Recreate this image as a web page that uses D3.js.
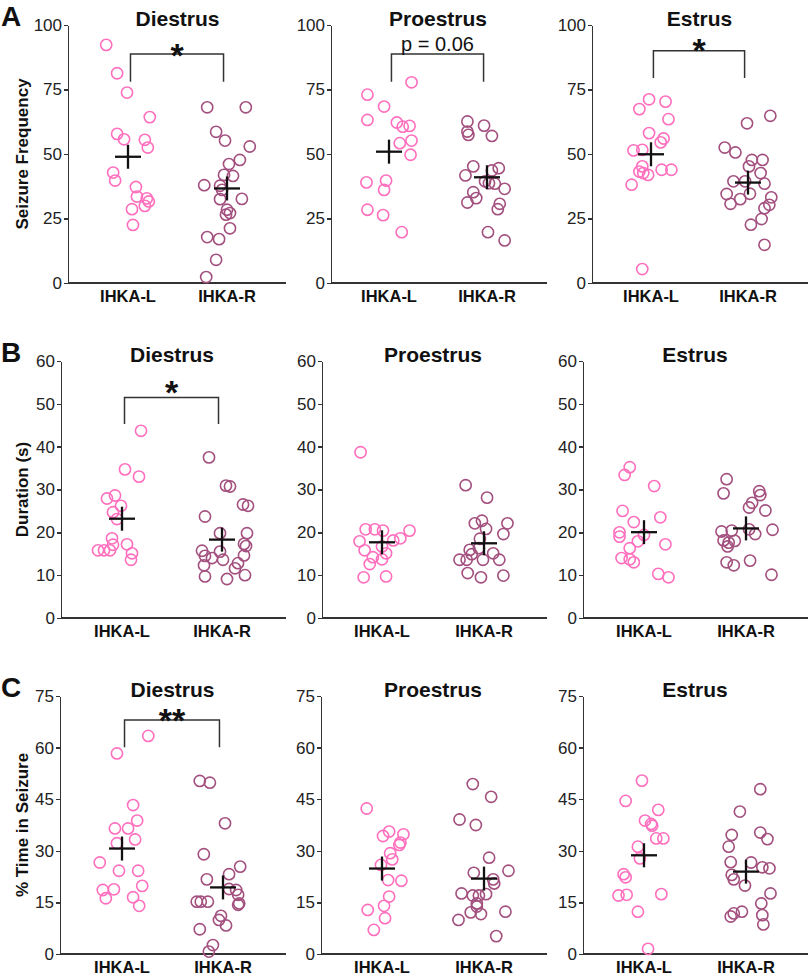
<!DOCTYPE html>
<html>
<head>
<meta charset="utf-8">
<title>Seizure measures by cycle stage</title>
<script src="https://cdn.jsdelivr.net/npm/d3@7/dist/d3.min.js"></script>
<style>
  body { margin: 0; background: #fff; }
  svg { display: block; font-family: "Liberation Sans", Arial, sans-serif; }
  .axis path, .axis line { stroke: #333; stroke-width: 1.5px; shape-rendering: crispEdges; }
  .axis text { font-size: 17px; fill: #222; }
  .base { stroke: #333; stroke-width: 1.5px; shape-rendering: crispEdges; }
  .cat { font-size: 16.5px; font-weight: bold; fill: #111; }
  .title { font-size: 21px; font-weight: bold; fill: #111; }
  .ytitle { font-size: 17px; font-weight: bold; fill: #111; }
  .letter { font-size: 28px; font-weight: bold; fill: #111; }
  .mean { stroke: #111; stroke-width: 2.3px; }
  .bracket { fill: none; stroke: #333; stroke-width: 1.5px; }
</style>
</head>
<body>
<script>
// groups, stages, measures
var categories = ["IHKA-L", "IHKA-R"];
var stages = ["Diestrus", "Proestrus", "Estrus"];
var measures = ["Seizure Frequency", "Duration (s)", "% Time in Seizure"];
var letters = ["A", "B", "C"];
var yDomains = [[0, 100], [0, 60], [0, 75]];
var yTicks = [[0, 25, 50, 75, 100], [0, 10, 20, 30, 40, 50, 60], [0, 15, 30, 45, 60, 75]];
var groupColors = ["#ff6fbe", "#a3507f"];

// each point: [horizontal jitter (hundredths of group spacing), value]
var freqDiL = [[-22,92.3],[-11,81.3],[-1,73.8],[22,64.3],[-11,57.8],[-4,55.7],[17,55.5],[20,52.5],[-15,42.8],[-13,39.7],[8,37.2],[9,33.5],[19,32.8],[21,31.6],[17,29.9],[4,28.6],[5,22.5]];
var freqDiR = [[-20,68.1],[19,68.1],[-11,58.6],[-2,55.2],[23,52.9],[2,46.1],[13,47.7],[-3,41.9],[6,41.5],[-23,37.9],[-7,37.7],[-5,36.1],[-7,32.5],[15,32.6],[0,28.4],[3,27.1],[-1,26.5],[3,21.2],[-20,17.8],[-8,17.0],[-11,9.0],[-21,2.3]];
var freqProL = [[23,77.8],[-22,73.0],[-5,68.4],[-22,63.2],[8,62.2],[14,60.6],[21,60.9],[11,54.2],[23,55.2],[22,49.7],[-23,39.0],[-3,39.7],[-5,36.1],[-22,28.4],[-6,26.3],[13,19.7]];
var freqProR = [[-20,62.6],[-20,58.7],[-19,57.4],[-3,61.0],[5,57.0],[-14,45.2],[-22,41.7],[5,43.6],[12,44.5],[-2,39.4],[2,38.7],[8,38.5],[18,36.5],[-14,35.2],[-11,32.9],[-20,31.2],[13,30.7],[11,28.6],[1,19.7],[18,16.5]];
var freqEsL = [[-2,71.2],[-12,67.4],[15,70.3],[18,63.5],[-2,58.1],[13,56.0],[10,54.5],[-18,51.4],[-9,51.6],[-9,45.2],[-12,43.2],[-8,42.6],[-3,41.9],[11,43.9],[21,43.9],[-20,38.1],[-9,5.4]];
var freqEsR = [[23,64.8],[-1,61.9],[-24,52.5],[-13,50.6],[4,47.7],[15,47.7],[1,45.2],[13,42.6],[-15,39.4],[-3,39.4],[17,38.5],[-22,34.5],[-8,32.5],[2,34.6],[24,33.2],[-18,30.7],[22,30.3],[17,29.0],[3,22.6],[14,24.8],[17,14.8]];

var durDiL = [[19,43.7],[3,34.7],[17,33.0],[-15,27.9],[-7,28.6],[-1,26.2],[-9,24.7],[-5,23.1],[-10,18.6],[-9,17.1],[5,17.2],[-24,15.8],[-18,15.8],[-12,15.8],[10,15.1],[9,13.6]];
var durDiR = [[-13,37.5],[4,30.9],[8,30.7],[21,26.5],[26,26.2],[-17,23.7],[-2,19.8],[25,19.8],[22,17.3],[24,16.8],[-20,15.7],[-2,15.5],[-17,14.5],[-10,14.0],[22,14.6],[1,13.6],[16,12.8],[-18,12.3],[13,11.6],[-17,9.7],[23,10.0],[5,9.1]];
var durProL = [[-21,38.7],[-16,20.7],[-7,20.7],[1,20.4],[27,20.4],[18,18.6],[11,18.1],[-22,17.9],[0,16.7],[-17,15.8],[4,15.1],[-9,14.2],[0,13.7],[-12,12.6],[-18,9.5],[4,9.7]];
var durProR = [[-18,31.0],[3,28.1],[-9,22.1],[-2,22.7],[23,22.1],[2,20.8],[19,19.6],[-4,18.5],[-14,15.9],[-12,14.9],[9,15.1],[-24,13.6],[-17,13.6],[-1,13.6],[15,13.6],[-16,10.5],[19,9.9],[-3,9.5],[-5,16.3]];
var durEsL = [[-14,35.2],[-19,33.4],[10,30.8],[-21,25.0],[-10,22.4],[16,23.5],[-24,20.0],[-24,19.0],[0,19.4],[-6,17.9],[21,17.2],[-14,16.3],[-22,14.0],[-14,13.7],[-10,13.0],[14,10.3],[24,9.5]];
var durEsR = [[-19,32.4],[-22,29.1],[13,29.6],[14,28.7],[6,26.9],[3,25.8],[19,25.1],[-24,20.2],[-14,20.4],[3,20.7],[9,19.6],[26,20.6],[-22,18.1],[-17,17.6],[-11,18.0],[-18,16.7],[-19,13.0],[-12,12.3],[4,13.4],[25,10.1]];

var timeDiL = [[26,63.4],[-5,58.3],[11,43.3],[15,38.8],[-7,36.5],[6,36.5],[13,33.3],[-5,32.2],[-22,26.6],[-3,24.2],[16,24.2],[20,19.8],[-19,18.6],[-8,18.8],[-16,16.2],[11,16.5],[17,14.0]];
var timeDiR = [[-23,50.3],[-13,49.8],[2,38.0],[-19,29.0],[17,25.4],[6,23.2],[-16,21.7],[6,18.9],[13,18.6],[15,17.2],[16,14.7],[15,14.3],[-26,15.2],[-22,15.2],[-15,15.2],[-2,11.1],[-4,9.9],[3,8.3],[-23,7.2],[-10,2.6],[-14,0.7]];
var timeProL = [[-15,42.3],[1,34.3],[7,35.6],[21,34.8],[17,31.7],[18,32.4],[8,29.3],[10,27.5],[-1,25.9],[6,21.5],[19,21.3],[7,16.7],[-14,12.8],[2,14.0],[3,10.4],[-8,7.0]];
var timeProR = [[-11,49.4],[7,45.7],[-24,39.1],[-8,37.5],[5,28.0],[24,24.2],[-10,23.6],[9,21.7],[10,20.5],[-22,17.6],[-11,17.0],[-5,17.0],[2,17.4],[-7,14.7],[-7,13.8],[-13,12.1],[-3,11.6],[21,12.3],[-25,9.9],[12,5.2]];
var timeEsL = [[-2,50.4],[-18,44.5],[14,41.9],[1,38.8],[7,37.8],[8,37.3],[12,33.6],[19,33.6],[-6,31.2],[-4,27.8],[-20,23.2],[-18,22.3],[-25,17.0],[-17,17.2],[17,17.4],[-6,12.3],[4,1.5]];
var timeEsR = [[14,47.9],[-6,41.4],[-14,34.6],[14,35.3],[21,33.4],[-17,31.2],[-15,26.7],[5,26.6],[16,25.2],[23,24.9],[-14,23.0],[-12,21.7],[-1,19.9],[24,17.6],[15,14.7],[-4,12.3],[-12,11.8],[-15,10.9],[16,11.3],[17,8.6]];

// significance marks: row, col, label, bracket level, leg end, label level
var sigMarks = [
  [0, 0, "*", 88.8, 78, 91.5],
  [0, 1, "p = 0.06", 88.8, 78, 90],
  [0, 2, "*", 90, 79.5, 93.5],
  [1, 0, "*", 51.5, 45.3, 54.7],
  [2, 0, "**", 68, 60.1, 70.4]
];

var panels = [
  [[freqDiL, freqDiR], [freqProL, freqProR], [freqEsL, freqEsR]],
  [[durDiL, durDiR], [durProL, durProR], [durEsL, durEsR]],
  [[timeDiL, timeDiR], [timeProL, timeProR], [timeEsL, timeEsR]]
];

// layout (pixels)
var width = 810, height = 977;
var rowTop = [25, 361, 696], rowBottom = [283, 618, 954];
var axisX = [[68, 331, 592], [61, 322, 583], [60, 321, 583]];
var axisEnd = [286, 547, 808];
var catPos = [
  [[128, 227], [389, 487], [651, 748]],
  [[122, 222], [382, 484], [644, 746]],
  [[122, 223], [382, 484], [644, 746]]
];

var svg = d3.select("body").append("svg")
    .attr("width", width)
    .attr("height", height);

var scales = [];

panels.forEach(function(row, r) {
  scales[r] = [];
  row.forEach(function(groups, c) {
    var y = d3.scaleLinear().domain(yDomains[r]).range([rowBottom[r], rowTop[r]]);
    var x = d3.scaleLinear().domain([0, 1]).range(catPos[r][c]);
    scales[r][c] = {x: x, y: y};

    var g = svg.append("g");

    g.append("g")
        .attr("class", "axis")
        .attr("transform", "translate(" + axisX[r][c] + ",0)")
        .call(d3.axisLeft(y).tickValues(yTicks[r]).tickSize(4).tickSizeOuter(0).tickPadding(2));

    g.append("line")
        .attr("class", "base")
        .attr("x1", axisX[r][c])
        .attr("x2", axisEnd[c])
        .attr("y1", y(0))
        .attr("y2", y(0));

    g.selectAll(".cat")
        .data(categories)
        .enter().append("text")
        .attr("class", "cat")
        .attr("x", function(d, i) { return x(i); })
        .attr("y", rowBottom[r] + 19)
        .attr("text-anchor", "middle")
        .text(function(d) { return d; });

    g.append("text")
        .attr("class", "title")
        .attr("x", (x(0) + x(1)) / 2)
        .attr("y", rowTop[r] + 1)
        .attr("text-anchor", "middle")
        .text(stages[c]);

    groups.forEach(function(pts, i) {
      g.selectAll(null)
          .data(pts)
          .enter().append("circle")
          .attr("cx", function(d) { return x(i + d[0] / 100); })
          .attr("cy", function(d) { return y(d[1]); })
          .attr("r", 5.6)
          .attr("fill", "none")
          .attr("stroke", groupColors[i])
          .attr("stroke-width", 1.6);

      var m = d3.mean(pts, function(d) { return d[1]; });
      g.append("line").attr("class", "mean")
          .attr("x1", x(i) - 13).attr("x2", x(i) + 13)
          .attr("y1", y(m)).attr("y2", y(m));
      g.append("line").attr("class", "mean")
          .attr("x1", x(i)).attr("x2", x(i))
          .attr("y1", y(m) - 12).attr("y2", y(m) + 12);
    });
  });

  svg.append("text")
      .attr("class", "ytitle")
      .attr("transform", "translate(28," + (rowTop[r] + rowBottom[r]) / 2 + ") rotate(-90)")
      .attr("text-anchor", "middle")
      .text(measures[r]);

  svg.append("text")
      .attr("class", "letter")
      .attr("x", 1)
      .attr("y", rowTop[r] + 1)
      .text(letters[r]);
});

sigMarks.forEach(function(s) {
  var sc = scales[s[0]][s[1]];
  var x0 = sc.x(0.025), x1 = sc.x(0.965), yb = sc.y(s[3]), yl = sc.y(s[4]);
  svg.append("path")
      .attr("class", "bracket")
      .attr("d", "M" + x0 + "," + yl + "V" + yb + "H" + x1 + "V" + yl);
  var isStar = s[2].indexOf("*") === 0;
  svg.append("text")
      .attr("x", (x0 + x1) / 2)
      .attr("y", isStar ? sc.y(s[5]) + 20 : sc.y(s[5]))
      .attr("text-anchor", "middle")
      .style("font-size", isStar ? "34px" : "20px")
      .style("font-weight", isStar ? "bold" : "normal")
      .style("fill", "#111")
      .text(s[2]);
});
</script>
</body>
</html>
